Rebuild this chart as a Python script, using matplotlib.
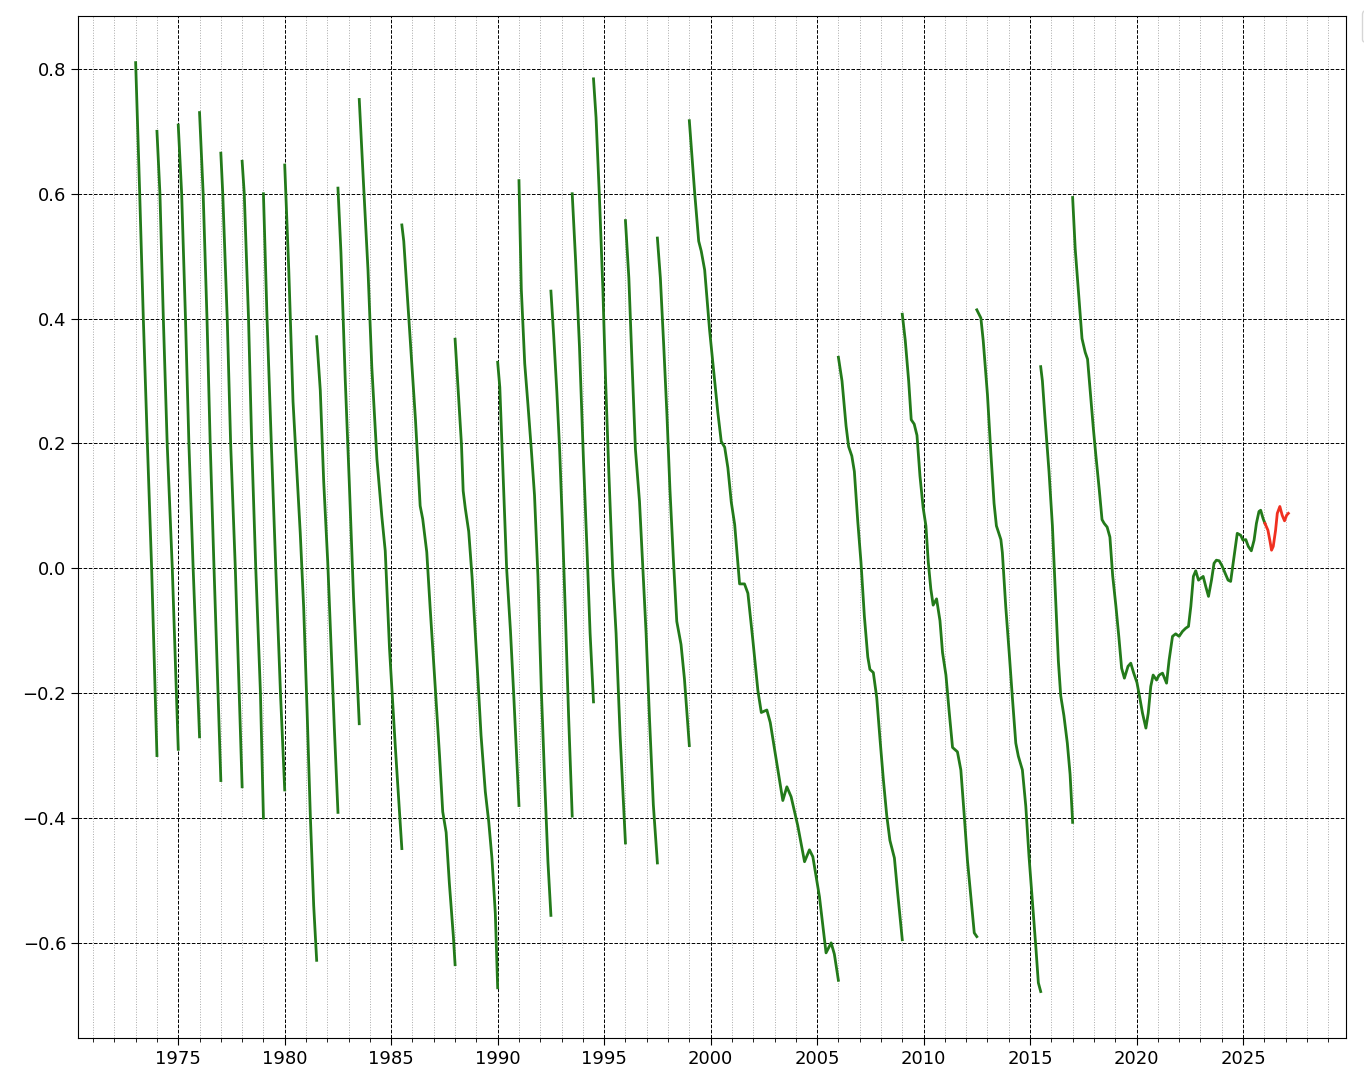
import numpy as np
import matplotlib
matplotlib.use("Agg")
import matplotlib.pyplot as plt
from matplotlib.ticker import MultipleLocator

# UT1-UTC in seconds; segments restart at each leap second
obs_year = [
    1973.0, 1973.19, 1973.36, 1973.55, 1973.75, 1974.0,
    1974.0, 1974.14, 1974.3, 1974.48, 1974.72, 1975.0,
    1975.0, 1975.16, 1975.34, 1975.5, 1975.7, 1976.0,
    1976.0, 1976.17, 1976.35, 1976.5, 1976.68, 1977.0,
    1977.0, 1977.09, 1977.3, 1977.46, 1977.68, 1978.0,
    1978.0, 1978.1, 1978.3, 1978.45, 1978.64, 1978.86, 1979.0,
    1979.0, 1979.17, 1979.37, 1979.58, 1979.8, 1980.0,
    1980.0, 1980.19, 1980.39, 1980.58, 1980.73, 1980.89, 1981.05, 1981.2, 1981.36, 1981.5,
    1981.5, 1981.67, 1981.83, 1982.02, 1982.17, 1982.33, 1982.5,
    1982.5, 1982.64, 1982.84, 1983.03, 1983.23, 1983.5,
    1983.5, 1983.7, 1983.91, 1984.09, 1984.33, 1984.56, 1984.72, 1984.92, 1985.19, 1985.5,
    1985.5, 1985.59, 1985.78, 1985.94, 1986.14, 1986.36, 1986.48, 1986.67, 1986.83, 1987.03,
    1987.27, 1987.42, 1987.58, 1987.73, 1987.92, 1988.0,
    1988.0, 1988.14, 1988.3, 1988.38, 1988.48, 1988.64, 1988.8, 1988.95, 1989.06, 1989.22,
    1989.42, 1989.58, 1989.73, 1989.89, 1990.0,
    1990.0, 1990.1, 1990.2, 1990.42, 1990.6, 1990.75, 1991.0,
    1991.0, 1991.11, 1991.27, 1991.42, 1991.58, 1991.73, 1991.89, 1992.05, 1992.2, 1992.36, 1992.5,
    1992.5, 1992.63, 1992.78, 1992.91, 1993.03, 1993.17, 1993.33, 1993.5,
    1993.5, 1993.66, 1993.84, 1994.03, 1994.19, 1994.34, 1994.5,
    1994.5, 1994.62, 1994.78, 1994.94, 1995.06, 1995.22, 1995.41, 1995.56, 1995.75, 1996.0,
    1996.0, 1996.16, 1996.31, 1996.47, 1996.66, 1996.81, 1996.97, 1997.13, 1997.31, 1997.5,
    1997.5, 1997.64, 1997.8, 1997.95, 1998.09, 1998.25, 1998.41, 1998.61, 1998.77, 1999.0,
    1999.0, 1999.25, 1999.44, 1999.56, 1999.72, 1999.95, 2000.11, 2000.34, 2000.5, 2000.66,
    2000.81, 2000.97, 2001.13, 2001.36, 2001.59, 2001.75, 2001.98, 2002.22, 2002.38, 2002.64,
    2002.8, 2003.08, 2003.39, 2003.58, 2003.78, 2004.09, 2004.41, 2004.64, 2004.8, 2005.11,
    2005.42, 2005.66, 2005.81, 2006.0,
    2006.0, 2006.17, 2006.36, 2006.48, 2006.63, 2006.75, 2006.91, 2007.06, 2007.22, 2007.38,
    2007.48, 2007.64, 2007.8, 2007.95, 2008.11, 2008.27, 2008.42, 2008.63, 2008.78, 2009.0,
    2009.0, 2009.14, 2009.3, 2009.42, 2009.56, 2009.69, 2009.83, 2009.98, 2010.11, 2010.22,
    2010.34, 2010.45, 2010.61, 2010.77, 2010.89, 2011.05, 2011.2, 2011.36, 2011.59, 2011.75,
    2011.91, 2012.06, 2012.22, 2012.38, 2012.5,
    2012.5, 2012.69, 2012.8, 2013.0, 2013.16, 2013.31, 2013.42, 2013.63, 2013.7, 2013.86,
    2014.02, 2014.17, 2014.33, 2014.45, 2014.64, 2014.8, 2014.95, 2015.11, 2015.27, 2015.39,
    2015.5,
    2015.5, 2015.58, 2015.7, 2015.89, 2016.05, 2016.2, 2016.33, 2016.44, 2016.59, 2016.75,
    2016.88, 2017.0,
    2017.0, 2017.12, 2017.28, 2017.44, 2017.59, 2017.7, 2017.86, 2017.97, 2018.09, 2018.25,
    2018.38, 2018.48, 2018.62, 2018.75, 2018.88, 2019.03, 2019.17, 2019.3, 2019.43, 2019.6,
    2019.73, 2019.86, 2020.02, 2020.14, 2020.28, 2020.44, 2020.55, 2020.67, 2020.78, 2020.94,
    2021.06, 2021.22, 2021.41, 2021.53, 2021.69, 2021.84, 2022.0, 2022.16, 2022.31, 2022.44,
    2022.55, 2022.67, 2022.78, 2022.91, 2023.02, 2023.13, 2023.25, 2023.38, 2023.52, 2023.64,
    2023.75, 2023.88, 2024.0, 2024.16, 2024.3, 2024.42, 2024.58, 2024.73, 2024.89, 2025.0,
    2025.13, 2025.25, 2025.39, 2025.52, 2025.63, 2025.75, 2025.83, 2025.94, 2026.03,
]
obs_ut1 = [
    0.81, 0.60, 0.40, 0.20, 0.0, -0.30,
    0.70, 0.60, 0.40, 0.20, 0.0, -0.29,
    0.71, 0.60, 0.40, 0.20, 0.0, -0.27,
    0.73, 0.60, 0.40, 0.20, 0.0, -0.34,
    0.665, 0.60, 0.40, 0.20, 0.0, -0.35,
    0.652, 0.60, 0.40, 0.20, 0.0, -0.20, -0.40,
    0.60, 0.40, 0.20, 0.0, -0.20, -0.355,
    0.646, 0.478, 0.267, 0.148, 0.056, -0.063, -0.228, -0.394, -0.54, -0.628,
    0.371, 0.285, 0.139, 0.01, -0.118, -0.256, -0.391,
    0.609, 0.506, 0.304, 0.139, -0.045, -0.249,
    0.751, 0.616, 0.478, 0.322, 0.175, 0.083, 0.028, -0.128, -0.284, -0.449,
    0.55, 0.524, 0.426, 0.344, 0.238, 0.10, 0.079, 0.026, -0.064, -0.17,
    -0.30, -0.39, -0.423, -0.504, -0.59, -0.635,
    0.367, 0.287, 0.198, 0.124, 0.096, 0.059, -0.015, -0.104, -0.17, -0.268,
    -0.358, -0.406, -0.464, -0.553, -0.672,
    0.33, 0.29, 0.20, 0.0, -0.10, -0.20, -0.38,
    0.621, 0.447, 0.328, 0.263, 0.19, 0.117, -0.012, -0.195, -0.333, -0.47, -0.556,
    0.444, 0.373, 0.282, 0.19, 0.08, -0.063, -0.236, -0.397,
    0.60, 0.493, 0.356, 0.172, 0.034, -0.104, -0.214,
    0.784, 0.722, 0.593, 0.447, 0.309, 0.153, -0.012, -0.104, -0.268, -0.44,
    0.557, 0.465, 0.328, 0.19, 0.107, 0.006, -0.104, -0.241, -0.379, -0.472,
    0.529, 0.465, 0.355, 0.245, 0.126, 0.015, -0.085, -0.122, -0.177, -0.284,
    0.717, 0.602, 0.524, 0.508, 0.478, 0.382, 0.327, 0.249, 0.203, 0.194,
    0.161, 0.106, 0.07, -0.025, -0.025, -0.04, -0.114, -0.196, -0.231, -0.227,
    -0.247, -0.306, -0.372, -0.35, -0.366, -0.412, -0.47, -0.451, -0.462, -0.526,
    -0.616, -0.60, -0.618, -0.66,
    0.338, 0.30, 0.228, 0.195, 0.18, 0.155, 0.075, 0.01, -0.077, -0.142,
    -0.162, -0.167, -0.207, -0.272, -0.338, -0.396, -0.436, -0.464, -0.519, -0.595,
    0.407, 0.365, 0.30, 0.238, 0.231, 0.213, 0.148, 0.097, 0.068, 0.01,
    -0.033, -0.059, -0.049, -0.084, -0.135, -0.171, -0.229, -0.287, -0.294, -0.323,
    -0.396, -0.468, -0.526, -0.584, -0.59,
    0.414, 0.401, 0.365, 0.278, 0.184, 0.104, 0.068, 0.046, 0.025, -0.062,
    -0.135, -0.207, -0.28, -0.301, -0.323, -0.381, -0.461, -0.533, -0.606, -0.664,
    -0.678,
    0.323, 0.30, 0.242, 0.155, 0.068, -0.048, -0.149, -0.204, -0.236, -0.28,
    -0.33, -0.407,
    0.594, 0.512, 0.44, 0.368, 0.346, 0.335, 0.269, 0.225, 0.181, 0.126,
    0.078, 0.072, 0.066, 0.05, -0.012, -0.06, -0.11, -0.16, -0.176, -0.157,
    -0.152, -0.167, -0.183, -0.205, -0.232, -0.256, -0.232, -0.189, -0.171, -0.179,
    -0.171, -0.168, -0.184, -0.147, -0.109, -0.105, -0.109, -0.101, -0.096, -0.093,
    -0.061, -0.013, -0.004, -0.019, -0.016, -0.013, -0.029, -0.045, -0.019, 0.008,
    0.013, 0.012, 0.005, -0.008, -0.019, -0.021, 0.019, 0.056, 0.053, 0.045,
    0.046, 0.035, 0.028, 0.045, 0.072, 0.091, 0.093, 0.08, 0.072,
]

# prediction
pred_year = [2026.03, 2026.17, 2026.27, 2026.34, 2026.42, 2026.53, 2026.61, 2026.73,
             2026.84, 2026.95, 2027.05, 2027.13]
pred_ut1 = [0.072, 0.061, 0.043, 0.029, 0.035, 0.061, 0.088, 0.099,
            0.085, 0.076, 0.085, 0.088]

# break the line where a leap second makes the value jump up
x = np.array(obs_year, dtype=float)
y = np.array(obs_ut1, dtype=float)
jumps = np.where(np.diff(y) > 0.3)[0] + 1
x = np.insert(x, jumps, np.nan)
y = np.insert(y, jumps, np.nan)

fig = plt.figure(figsize=(13.64, 10.79), dpi=100)
ax = fig.add_subplot(1, 1, 1)
fig.subplots_adjust(left=0.0572, right=0.9868, top=0.985, bottom=0.038)

ax.plot(x, y, color='#237a1a', lw=2.0, label='UT1-UTC')
ax.plot(pred_year, pred_ut1, color='#f03020', lw=2.0)

ax.xaxis.set_major_locator(MultipleLocator(5))
ax.xaxis.set_minor_locator(MultipleLocator(1))
ax.grid(which='major', color='k', linestyle='--', lw=0.7)
ax.grid(which='minor', axis='x', color='#aaaaaa', linestyle=':', lw=0.7)
ax.tick_params(which='major', length=5, labelsize=13)
ax.tick_params(which='minor', length=3)

ax.legend(loc='upper left', bbox_to_anchor=(1.0126, 1.006), borderaxespad=0,
          fontsize=13)

plt.savefig('out.png', dpi=100)
